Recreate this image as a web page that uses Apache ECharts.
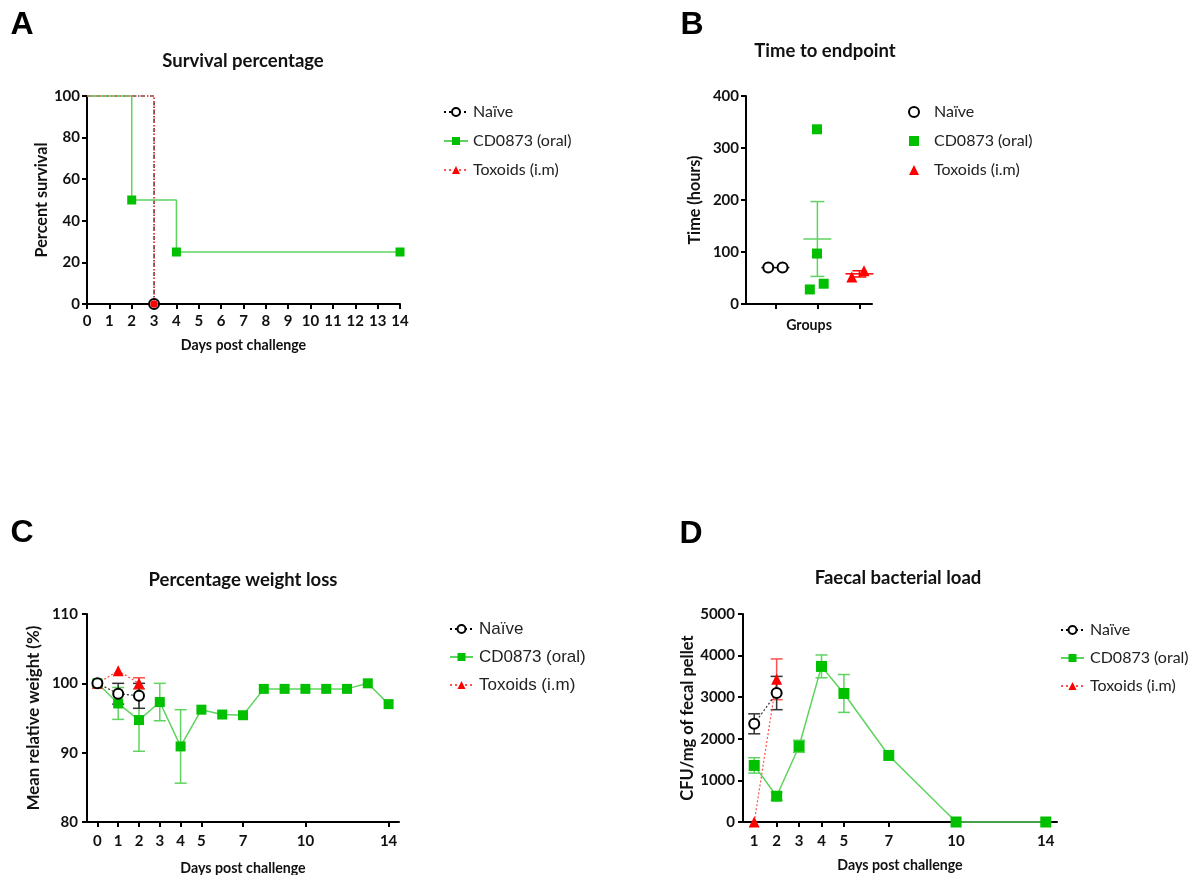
<!DOCTYPE html>
<html><head><meta charset="utf-8">
<script src="https://cdn.jsdelivr.net/npm/echarts@6/dist/echarts.min.js"></script>
<style>html,body{margin:0;padding:0;background:#fff}#c{width:1195px;height:875px}</style>
</head><body><div id="c"></div>
<script>
// ---------- DATA ----------
const groupNames = ['Naïve', 'CD0873 (oral)', 'Toxoids (i.m)'];

// A: survival (Kaplan-Meier steps)
const survNaiveDays = [0, 3];
const survNaive = [100, 0];
const survToxDays = [0, 3];
const survTox = [100, 0];
const survCDDays = [0, 2, 4, 14];
const survCD = [100, 50, 25, 25];

// B: time to endpoint (hours), x = jittered group position
const groupCenters = [0.7, 1.7, 2.7];
const endNaiveX = [0.53, 0.87];
const endNaive = [70, 70];
const endCDX = [1.69, 1.69, 1.52, 1.85];
const endCD = [336, 97, 28, 39];
const endToxX = [2.52, 2.81];
const endTox = [52, 64];

// C: weight
const weightTicks = [0, 1, 2, 3, 4, 5, 7, 10, 14];
const weightCDDays = [0, 1, 2, 3, 4, 5, 6, 7, 8, 9, 10, 11, 12, 13, 14];
const weightCD = [100, 97.1, 94.7, 97.3, 90.9, 96.2, 95.5, 95.4, 99.2, 99.2, 99.2, 99.2, 99.2, 100, 97.0];
const weightCDErr = [0, 2.3, 4.5, 2.7, 5.3, 0, 0, 0, 0, 0, 0, 0, 0, 0, 0];
const weightNaiveDays = [0, 1, 2];
const weightNaive = [100, 98.5, 98.2];
const weightNaiveErr = [0, 1.5, 1.8];
const weightToxDays = [0, 1, 2];
const weightTox = [100, 101.8, 100.0];
const weightToxErr = [0, 0, 0.8];

// D: faecal load
const loadTicks = [1, 2, 3, 4, 5, 7, 10, 14];
const loadCDDays = [1, 2, 3, 4, 5, 7, 10, 14];
const loadCD = [1360, 620, 1820, 3740, 3090, 1600, 0, 0];
const loadCDErr = [185, 95, 145, 275, 455, 0, 0, 0];
const loadNaiveDays = [1, 2];
const loadNaive = [2360, 3100];
const loadNaiveErr = [240, 400];
const loadToxDays = [1, 2];
const loadTox = [0, 3430];
const loadToxErr = [0, 490];

// ---------- STYLE ----------
const BLACK = '#000000', GREEN = '#00c000', GREEN_LINE = '#5fd35f', RED = '#ff0000', RED_LINE = '#ff5050';
const FONT = 'Lato';

function axisBase(extra) {
  const base = {
    type: 'value',
    axisLine: { show: true, onZero: false, lineStyle: { color: '#000', width: 2 } },
    axisTick: { show: true, length: 5, lineStyle: { color: '#000', width: 2 } },
    axisLabel: { color: '#111', fontFamily: FONT, fontWeight: 'bold', fontSize: 15, formatter: function (v) { return String(v); } },
    splitLine: { show: false },
    nameLocation: 'middle',
    nameTextStyle: { color: '#111', fontFamily: FONT, fontWeight: 'bold', fontSize: 14.2 }
  };
  for (const k in extra) {
    if (typeof extra[k] === 'object' && !Array.isArray(extra[k]) && base[k]) base[k] = Object.assign({}, base[k], extra[k]);
    else base[k] = extra[k];
  }
  return base;
}

function pts(xs, ys) { return xs.map((x, i) => [x, ys[i]]); }

function errBars(xi, yi, xs, means, errs, color, cap) {
  const data = [];
  xs.forEach((x, i) => { if (errs[i] > 0) data.push([x, means[i] - errs[i], means[i] + errs[i]]); });
  return {
    type: 'custom', xAxisIndex: xi, yAxisIndex: yi, data: data, silent: true, z: 1,
    encode: { x: 0, y: [1, 2] },
    renderItem: function (params, api) {
      const x = api.value(0);
      const lo = api.coord([x, api.value(1)]);
      const hi = api.coord([x, api.value(2)]);
      const st = { stroke: color, lineWidth: 1.5 };
      return { type: 'group', children: [
        { type: 'line', shape: { x1: lo[0], y1: lo[1], x2: hi[0], y2: hi[1] }, style: st },
        { type: 'line', shape: { x1: lo[0] - cap, y1: lo[1], x2: lo[0] + cap, y2: lo[1] }, style: st },
        { type: 'line', shape: { x1: hi[0] - cap, y1: hi[1], x2: hi[0] + cap, y2: hi[1] }, style: st }
      ] };
    }
  };
}

function meanSem(arr) {
  const m = arr.reduce((a, b) => a + b, 0) / arr.length;
  const sd = Math.sqrt(arr.reduce((a, b) => a + (b - m) * (b - m), 0) / (arr.length - 1));
  return [m, sd / Math.sqrt(arr.length)];
}

const groupStats = [endNaive, endCD, endTox].map(meanSem);
const groupColors = [BLACK, GREEN_LINE, RED];

function stepData(days, vals, markerFrom) {
  return days.map((d, i) => i < markerFrom ? { value: [d, vals[i]], symbol: 'none' } : { value: [d, vals[i]] });
}

const legendText = { fontFamily: FONT, fontSize: 16, color: '#222', lineHeight: 20 };
const letterFont = 'bold 32px "Liberation Sans", Arial';
const titleFont = 'bold 18.5px Lato';
const lineLegendData = [
  { name: groupNames[0], lineStyle: { type: [2, 3], color: '#000' } },
  { name: groupNames[1] },
  { name: groupNames[2], lineStyle: { type: [2, 3], color: RED_LINE } }
];

const option = {
  backgroundColor: '#fff',
  animation: false,
  graphic: [
    { type: 'text', x: 22, y: 25, style: { text: 'A', align: 'center', verticalAlign: 'middle', font: letterFont, fill: '#000' } },
    { type: 'text', x: 692, y: 25, style: { text: 'B', align: 'center', verticalAlign: 'middle', font: letterFont, fill: '#000' } },
    { type: 'text', x: 22, y: 533, style: { text: 'C', align: 'center', verticalAlign: 'middle', font: letterFont, fill: '#000' } },
    { type: 'text', x: 691, y: 534, style: { text: 'D', align: 'center', verticalAlign: 'middle', font: letterFont, fill: '#000' } },
    { type: 'text', x: 243, y: 61, style: { text: 'Survival percentage', align: 'center', verticalAlign: 'middle', font: titleFont, fill: '#111' } },
    { type: 'text', x: 825, y: 51, style: { text: 'Time to endpoint', align: 'center', verticalAlign: 'middle', font: titleFont, fill: '#111' } },
    { type: 'text', x: 243, y: 580, style: { text: 'Percentage weight loss', align: 'center', verticalAlign: 'middle', font: titleFont, fill: '#111' } },
    { type: 'text', x: 898, y: 578, style: { text: 'Faecal bacterial load', align: 'center', verticalAlign: 'middle', font: titleFont, fill: '#111' } }
  ],
  grid: [
    { left: 87, top: 96, width: 313, height: 208, outerBoundsMode: 'none' },
    { left: 746, top: 96, width: 126, height: 208, outerBoundsMode: 'none' },
    { left: 87, top: 614, width: 312, height: 208, outerBoundsMode: 'none' },
    { left: 743, top: 614, width: 314, height: 208, outerBoundsMode: 'none' }
  ],
  xAxis: [
    axisBase({ gridIndex: 0, min: 0, max: 14, interval: 1, name: 'Days post challenge', nameGap: 34, axisLabel: { margin: 10 } }),
    axisBase({ gridIndex: 1, min: 0, max: 3, name: 'Groups', nameGap: 14, axisLabel: { show: false }, axisTick: { customValues: groupCenters } }),
    axisBase({ gridIndex: 2, min: -0.5, max: 14.5, name: 'Days post challenge', nameGap: 39, axisLabel: { margin: 12, customValues: weightTicks }, axisTick: { customValues: weightTicks } }),
    axisBase({ gridIndex: 3, min: 0.5, max: 14.5, name: 'Days post challenge', nameGap: 36, axisLabel: { margin: 12, customValues: loadTicks }, axisTick: { customValues: loadTicks } })
  ],
  yAxis: [
    axisBase({ gridIndex: 0, min: 0, max: 100, interval: 20, name: 'Percent survival', nameGap: 36, nameTextStyle: { fontSize: 16.2 }, axisLabel: { margin: 7 } }),
    axisBase({ gridIndex: 1, min: 0, max: 400, interval: 100, name: 'Time (hours)', nameGap: 43, nameTextStyle: { fontSize: 16.2 }, axisLabel: { margin: 7 } }),
    axisBase({ gridIndex: 2, min: 80, max: 110, interval: 10, name: 'Mean relative weight (%)', nameGap: 45, nameTextStyle: { fontSize: 16.8 }, axisLabel: { margin: 9 } }),
    axisBase({ gridIndex: 3, min: 0, max: 5000, interval: 1000, name: 'CFU/mg of fecal pellet', nameGap: 35, nameTextStyle: { fontSize: 16.5 }, axisLabel: { margin: 8 } })
  ],
  legend: [
    { orient: 'vertical', left: 438, top: 97, itemWidth: 24, itemHeight: 10, itemGap: 9, selectedMode: false, data: lineLegendData,
      textStyle: Object.assign({ padding: [0, 0, 0, 0] }, legendText) },
    { orient: 'vertical', left: 903, top: 97, itemWidth: 10, itemHeight: 10, itemGap: 9, selectedMode: false,
      data: [
        { name: groupNames[0], icon: 'circle', itemStyle: { color: '#fff', borderColor: '#000', borderWidth: 2 } },
        { name: groupNames[1], icon: 'rect', itemStyle: { color: GREEN, borderWidth: 0, opacity: 1 } },
        { name: groupNames[2], icon: 'triangle', itemStyle: { color: RED, borderWidth: 0, opacity: 1 } }
      ],
      textStyle: Object.assign({ padding: [0, 0, 0, 10] }, legendText) },
    { orient: 'vertical', left: 444, top: 614, itemWidth: 23, itemHeight: 10, itemGap: 8, selectedMode: false, data: lineLegendData,
      textStyle: { fontFamily: '"Liberation Sans", Arial', fontSize: 17, color: '#222', lineHeight: 20, padding: [0, 0, 0, 1] } },
    { orient: 'vertical', left: 1055, top: 615, itemWidth: 23, itemHeight: 10, itemGap: 8, selectedMode: false, data: lineLegendData,
      textStyle: Object.assign({ padding: [0, 0, 0, 1] }, legendText) }
  ],
  series: [
    // ---- A ----
    { name: groupNames[0], type: 'line', xAxisIndex: 0, yAxisIndex: 0, step: 'end', clip: false,
      data: stepData(survNaiveDays, survNaive, 1), symbol: 'emptyCircle', symbolSize: 10,
      itemStyle: { color: BLACK }, lineStyle: { color: BLACK, width: 1.2, type: [4, 2, 1, 2] } },
    { name: groupNames[1], type: 'line', xAxisIndex: 0, yAxisIndex: 0, step: 'end', clip: false,
      data: stepData(survCDDays, survCD, 1), symbol: 'rect', symbolSize: 9,
      itemStyle: { color: GREEN }, lineStyle: { color: GREEN_LINE, width: 1.5 } },
    { name: groupNames[2], type: 'line', xAxisIndex: 0, yAxisIndex: 0, step: 'end', clip: false,
      data: survToxDays.map((d, i) => i < 1 ? { value: [d, survTox[i]], symbol: 'none' } : { value: [d, survTox[i]], symbol: 'circle', symbolSize: 7.5 }),
      symbol: 'triangle', symbolSize: 10,
      itemStyle: { color: RED }, lineStyle: { color: RED_LINE, width: 1.2, type: [2, 2] } },
    // ---- B ----
    { type: 'custom', xAxisIndex: 1, yAxisIndex: 1, silent: true, z: 1,
      data: groupCenters.map((c, i) => [c, groupStats[i][0], groupStats[i][1], i]),
      renderItem: function (params, api) {
        const c = api.value(0), m = api.value(1), s = api.value(2), gi = api.value(3);
        const pm = api.coord([c, m]);
        const st = { stroke: groupColors[gi], lineWidth: 1.5 };
        const ch = [{ type: 'line', shape: { x1: pm[0] - 14, y1: pm[1], x2: pm[0] + 14, y2: pm[1] }, style: st }];
        if (s > 0) {
          const lo = api.coord([c, m - s]), hi = api.coord([c, m + s]);
          ch.push({ type: 'line', shape: { x1: lo[0], y1: lo[1], x2: hi[0], y2: hi[1] }, style: st });
          ch.push({ type: 'line', shape: { x1: lo[0] - 7, y1: lo[1], x2: lo[0] + 7, y2: lo[1] }, style: st });
          ch.push({ type: 'line', shape: { x1: hi[0] - 7, y1: hi[1], x2: hi[0] + 7, y2: hi[1] }, style: st });
        }
        return { type: 'group', children: ch };
      } },
    { name: groupNames[0], type: 'scatter', xAxisIndex: 1, yAxisIndex: 1, data: pts(endNaiveX, endNaive),
      symbol: 'emptyCircle', symbolSize: 10, itemStyle: { color: BLACK, opacity: 1 } },
    { name: groupNames[1], type: 'scatter', xAxisIndex: 1, yAxisIndex: 1, data: pts(endCDX, endCD),
      symbol: 'rect', symbolSize: 10, itemStyle: { color: GREEN, opacity: 1 } },
    { name: groupNames[2], type: 'scatter', xAxisIndex: 1, yAxisIndex: 1, data: pts(endToxX, endTox),
      symbol: 'triangle', symbolSize: 11, itemStyle: { color: RED, opacity: 1 } },
    // ---- C ----
    errBars(2, 2, weightCDDays, weightCD, weightCDErr, GREEN_LINE, 6),
    errBars(2, 2, weightToxDays, weightTox, weightToxErr, RED_LINE, 6),
    errBars(2, 2, weightNaiveDays, weightNaive, weightNaiveErr, '#333', 6),
    { name: groupNames[1], type: 'line', xAxisIndex: 2, yAxisIndex: 2, clip: false, data: pts(weightCDDays, weightCD),
      symbol: 'rect', symbolSize: 10, itemStyle: { color: GREEN }, lineStyle: { color: GREEN_LINE, width: 1.5 } },
    { name: groupNames[2], type: 'line', xAxisIndex: 2, yAxisIndex: 2, clip: false, data: pts(weightToxDays, weightTox),
      symbol: 'triangle', symbolSize: 11, itemStyle: { color: RED }, lineStyle: { color: RED_LINE, width: 1.2, type: [2, 2] } },
    { name: groupNames[0], type: 'line', xAxisIndex: 2, yAxisIndex: 2, clip: false, data: pts(weightNaiveDays, weightNaive),
      symbol: 'emptyCircle', symbolSize: 10, itemStyle: { color: BLACK }, lineStyle: { color: '#333', width: 1.2, type: [2, 2] } },
    // ---- D ----
    errBars(3, 3, loadCDDays, loadCD, loadCDErr, GREEN_LINE, 6),
    errBars(3, 3, loadToxDays, loadTox, loadToxErr, RED_LINE, 6),
    errBars(3, 3, loadNaiveDays, loadNaive, loadNaiveErr, '#333', 6),
    { name: groupNames[1], type: 'line', xAxisIndex: 3, yAxisIndex: 3, clip: false, data: pts(loadCDDays, loadCD),
      symbol: 'rect', symbolSize: 11, itemStyle: { color: GREEN }, lineStyle: { color: GREEN_LINE, width: 1.5 } },
    { name: groupNames[2], type: 'line', xAxisIndex: 3, yAxisIndex: 3, clip: false, data: pts(loadToxDays, loadTox),
      symbol: 'triangle', symbolSize: 11, itemStyle: { color: RED }, lineStyle: { color: RED_LINE, width: 1.2, type: [2, 2] } },
    { name: groupNames[0], type: 'line', xAxisIndex: 3, yAxisIndex: 3, clip: false, data: pts(loadNaiveDays, loadNaive),
      symbol: 'emptyCircle', symbolSize: 10, itemStyle: { color: BLACK }, lineStyle: { color: '#333', width: 1.2, type: [2, 2] } }
  ]
};

const chart = echarts.init(document.getElementById('c'), null, { renderer: 'canvas' });
chart.setOption(option);
</script>
</body></html>
